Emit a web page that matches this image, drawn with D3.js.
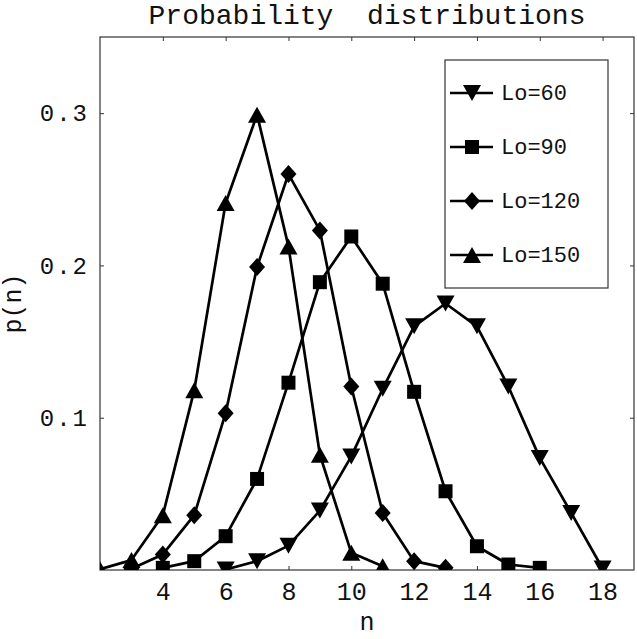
<!DOCTYPE html>
<html>
<head>
<meta charset="utf-8">
<script src="https://cdn.jsdelivr.net/npm/d3@7"></script>
<style>
  body { margin: 0; background: #fff; }
  text { font-family: "Liberation Mono", "DejaVu Sans Mono", monospace; fill: #111; }
</style>
</head>
<body>
<div id="chart"></div>
<script>
// Probability distributions p(n) for four values of Lo

const nLo60  = [6, 7, 8, 9, 10, 11, 12, 13, 14, 15, 16, 17, 18];
const pLo60  = [0.0003, 0.0058, 0.016, 0.039, 0.0746, 0.119, 0.16, 0.175, 0.16, 0.1205, 0.0736, 0.0375, 0.001];

const nLo90  = [4, 5, 6, 7, 8, 9, 10, 11, 12, 13, 14, 15, 16];
const pLo90  = [0.0014, 0.0058, 0.0222, 0.0598, 0.123, 0.189, 0.219, 0.188, 0.117, 0.0517, 0.0156, 0.0036, 0.0014];

const nLo120 = [3, 4, 5, 6, 7, 8, 9, 10, 11, 12, 13];
const pLo120 = [0.0008, 0.0102, 0.036, 0.103, 0.199, 0.26, 0.223, 0.1205, 0.0375, 0.0058, 0.0014];

const nLo150 = [2, 3, 4, 5, 6, 7, 8, 9, 10, 11];
const pLo150 = [0.0005, 0.0065, 0.036, 0.118, 0.241, 0.299, 0.2125, 0.0757, 0.0113, 0.0025];

const seriesNames = ["Lo=60", "Lo=90", "Lo=120", "Lo=150"];
const seriesMarkers = ["down", "square", "diamond", "up"];

const xTicks = [4, 6, 8, 10, 12, 14, 16, 18];
const yTicks = [0.1, 0.2, 0.3];

const width = 637, height = 639;
const margin = {top: 37, right: 3, bottom: 69, left: 100};
const innerW = width - margin.left - margin.right;
const innerH = height - margin.top - margin.bottom;

const series = [
  {name: seriesNames[0], marker: seriesMarkers[0], values: nLo60.map((n, i) => ({n, p: pLo60[i]}))},
  {name: seriesNames[1], marker: seriesMarkers[1], values: nLo90.map((n, i) => ({n, p: pLo90[i]}))},
  {name: seriesNames[2], marker: seriesMarkers[2], values: nLo120.map((n, i) => ({n, p: pLo120[i]}))},
  {name: seriesNames[3], marker: seriesMarkers[3], values: nLo150.map((n, i) => ({n, p: pLo150[i]}))}
];

const x = d3.scaleLinear().domain([2, 19]).range([0, innerW]);
const y = d3.scaleLinear().domain([0, 0.35]).range([innerH, 0]);

// marker shapes, centred on the point
function markerPath(type) {
  const p = d3.path();
  if (type === "up") {
    p.moveTo(0, -8); p.lineTo(9, 8); p.lineTo(-9, 8); p.closePath();
  } else if (type === "down") {
    p.moveTo(0, 8); p.lineTo(9, -8); p.lineTo(-9, -8); p.closePath();
  } else if (type === "square") {
    p.rect(-7, -7, 14, 14);
  } else {
    p.moveTo(0, -9); p.lineTo(8, 0); p.lineTo(0, 9); p.lineTo(-8, 0); p.closePath();
  }
  return p.toString();
}

const svg = d3.select("#chart").append("svg")
  .attr("width", width)
  .attr("height", height);

svg.append("text")
  .attr("x", margin.left + innerW / 2)
  .attr("y", 24)
  .attr("text-anchor", "middle")
  .style("font-size", "28px")
  .style("white-space", "pre")
  .attr("xml:space", "preserve")
  .text("Probability  distributions");

const g = svg.append("g")
  .attr("transform", `translate(${margin.left},${margin.top})`);

g.append("clipPath").attr("id", "plot-clip")
  .append("rect").attr("width", innerW).attr("height", innerH);

// Axes: ticks point inward on all four sides
const xBottom = d3.axisBottom(x).tickValues(xTicks).tickSize(-4).tickPadding(12)
  .tickFormat(d3.format("d"));
const xTop = d3.axisTop(x).tickValues(xTicks).tickSize(-4).tickFormat("");
const yLeft = d3.axisLeft(y).tickValues(yTicks).tickSize(-4).tickPadding(11)
  .tickFormat(d3.format(".1f"));
const yRight = d3.axisRight(y).tickValues(yTicks).tickSize(-4).tickFormat("");

const axBottom = g.append("g").attr("transform", `translate(0,${innerH})`).call(xBottom);
g.append("g").call(xTop);
const axLeft = g.append("g").call(yLeft);
g.append("g").attr("transform", `translate(${innerW},0)`).call(yRight);

g.selectAll(".domain").remove();
g.selectAll(".tick line").attr("stroke", "#333");

axBottom.selectAll("text")
  .style("font-size", "25px")
  .attr("fill", "#111");
axLeft.selectAll("text")
  .style("font-size", "24px")
  .style("letter-spacing", "2px")
  .attr("fill", "#111");

// frame
g.append("rect")
  .attr("width", innerW)
  .attr("height", innerH)
  .attr("fill", "none")
  .attr("stroke", "#333")
  .attr("stroke-width", 1.2);

// series lines + markers
const line = d3.line().x(d => x(d.n)).y(d => y(d.p));
const plot = g.append("g").attr("clip-path", "url(#plot-clip)");

plot.selectAll("path.series")
  .data(series)
  .join("path")
  .attr("class", "series")
  .attr("d", d => line(d.values))
  .attr("fill", "none")
  .attr("stroke", "#000")
  .attr("stroke-width", 2.7)
  .attr("stroke-linejoin", "round");

series.forEach(s => {
  plot.append("g").selectAll("path")
    .data(s.values)
    .join("path")
    .attr("transform", d => `translate(${x(d.n)},${y(d.p)})`)
    .attr("d", markerPath(s.marker))
    .attr("fill", "#000");
});

// axis titles
svg.append("text")
  .attr("x", margin.left + innerW / 2)
  .attr("y", 630)
  .attr("text-anchor", "middle")
  .style("font-size", "25px")
  .text("n");

svg.append("text")
  .attr("transform", `translate(21,${margin.top + innerH / 2}) rotate(-90)`)
  .attr("text-anchor", "middle")
  .style("font-size", "25px")
  .text("p(n)");

// legend
const legend = svg.append("g").attr("transform", "translate(445,60)");
legend.append("rect")
  .attr("width", 163)
  .attr("height", 228)
  .attr("fill", "#fff")
  .attr("stroke", "#333")
  .attr("stroke-width", 1.2);

const rowY = d3.scalePoint().domain(seriesNames).range([33, 195]);

const rows = legend.selectAll("g.row")
  .data(series)
  .join("g")
  .attr("class", "row")
  .attr("transform", d => `translate(0,${rowY(d.name)})`);

rows.append("line")
  .attr("x1", 5).attr("x2", 48)
  .attr("stroke", "#000")
  .attr("stroke-width", 2.7);

rows.append("path")
  .attr("transform", "translate(27,0)")
  .attr("d", d => markerPath(d.marker))
  .attr("fill", "#000");

rows.append("text")
  .attr("x", 56)
  .attr("y", 7)
  .style("font-size", "22px")
  .text(d => d.name);
</script>
</body>
</html>
